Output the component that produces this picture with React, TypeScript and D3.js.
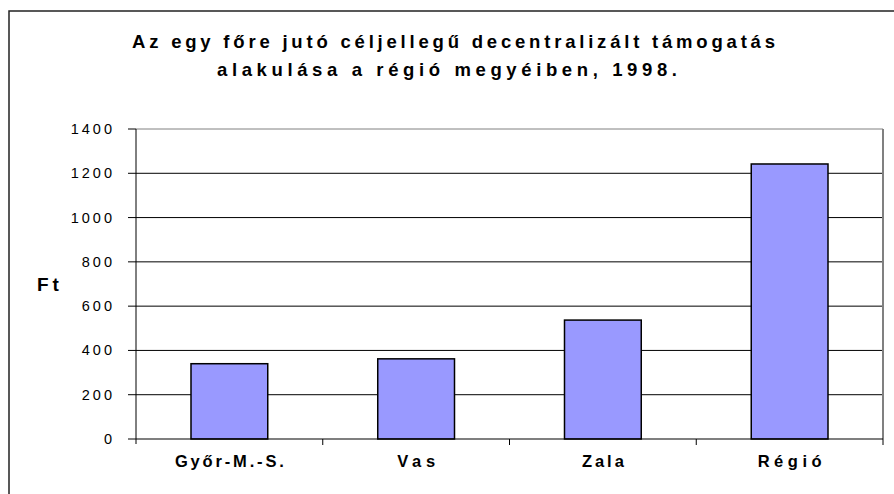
import React from "react";
import * as d3 from "d3";

const categories = ["Győr-M.-S.", "Vas", "Zala", "Régió"];
const values = [340, 362, 537, 1242];
const yTicks = [0, 200, 400, 600, 800, 1000, 1200, 1400];
const titleLines = [
  "Az egy főre jutó céljellegű decentralizált támogatás",
  "alakulása a régió megyéiben, 1998.",
];
const yLabel = "Ft";

const W = 894;
const H = 494;
const plot = { left: 136, right: 883, top: 129, bottom: 439 };
const font = "'Liberation Sans', Arial, sans-serif";

export default function App() {
  const x = d3
    .scaleBand<string>()
    .domain(categories)
    .range([plot.left, plot.right])
    .paddingInner(0.589)
    .paddingOuter(0.589 / 2);
  const y = d3.scaleLinear().domain([0, 1400]).range([plot.bottom, plot.top]);
  const step = x.step();
  const titleLens = [643, 460];
  const titleCenters = [453.5, 447];
  const labelLens = [109, 38, 42, 64];

  return (
    <svg
      width={W}
      height={H}
      style={{ position: "absolute", left: 0, top: 0, background: "#fff" }}
    >
      <rect x={0} y={0} width={W} height={H} fill="#fff" />
      <rect x={9} y={11} width={W + 20} height={H + 20} fill="none" stroke="#222" strokeWidth={1.5} />
      {titleLines.map((t, i) => (
        <text
          key={i}
          x={titleCenters[i]}
          y={47.5 + i * 28}
          textAnchor="middle"
          fontFamily={font}
          fontWeight="bold"
          fontSize={18.5}
          textLength={titleLens[i]}
          lengthAdjust="spacing"
          fill="#000"
        >
          {t}
        </text>
      ))}
      {yTicks.slice(1, -1).map((t) => (
        <line key={t} x1={plot.left} x2={plot.right} y1={y(t)} y2={y(t)} stroke="#000" strokeWidth={1} />
      ))}
      <line x1={plot.left} x2={plot.right} y1={y(1400)} y2={y(1400)} stroke="#808080" strokeWidth={1} />
      <line x1={plot.right} x2={plot.right} y1={plot.top} y2={plot.bottom} stroke="#808080" strokeWidth={2} />
      {categories.map((c, i) => (
        <rect
          key={c}
          x={x(c)}
          y={y(values[i])}
          width={x.bandwidth()}
          height={y(0) - y(values[i])}
          fill="#9999FF"
          stroke="#000"
          strokeWidth={1.5}
        />
      ))}
      <line x1={plot.left} x2={plot.left} y1={plot.top} y2={plot.bottom + 5} stroke="#000" strokeWidth={1} />
      {yTicks.map((t) => (
        <g key={t}>
          <line x1={plot.left - 8} x2={plot.left} y1={y(t)} y2={y(t)} stroke="#000" strokeWidth={1} />
          <text
            x={115}
            y={y(t) + 5}
            textAnchor="end"
            fontFamily={font}
            fontSize={14.5}
            letterSpacing={3}
            fill="#000"
          >
            {String(t)}
          </text>
        </g>
      ))}
      <line x1={plot.left} x2={plot.right} y1={plot.bottom} y2={plot.bottom} stroke="#000" strokeWidth={1.2} />
      {categories.map((c, i) => (
        <line
          key={"t" + c}
          x1={plot.left + step * (i + 1)}
          x2={plot.left + step * (i + 1)}
          y1={plot.bottom}
          y2={plot.bottom + 6}
          stroke="#000"
          strokeWidth={1}
        />
      ))}
      {categories.map((c, i) => (
        <text
          key={"l" + c}
          x={(x(c) as number) + x.bandwidth() / 2}
          y={467}
          textAnchor="middle"
          fontFamily={font}
          fontWeight="bold"
          fontSize={16.5}
          textLength={labelLens[i]}
          lengthAdjust="spacing"
          fill="#000"
        >
          {c}
        </text>
      ))}
      <text
        x={37}
        y={291}
        fontFamily={font}
        fontWeight="bold"
        fontSize={19}
        letterSpacing={4}
        fill="#000"
      >
        {yLabel}
      </text>
    </svg>
  );
}
